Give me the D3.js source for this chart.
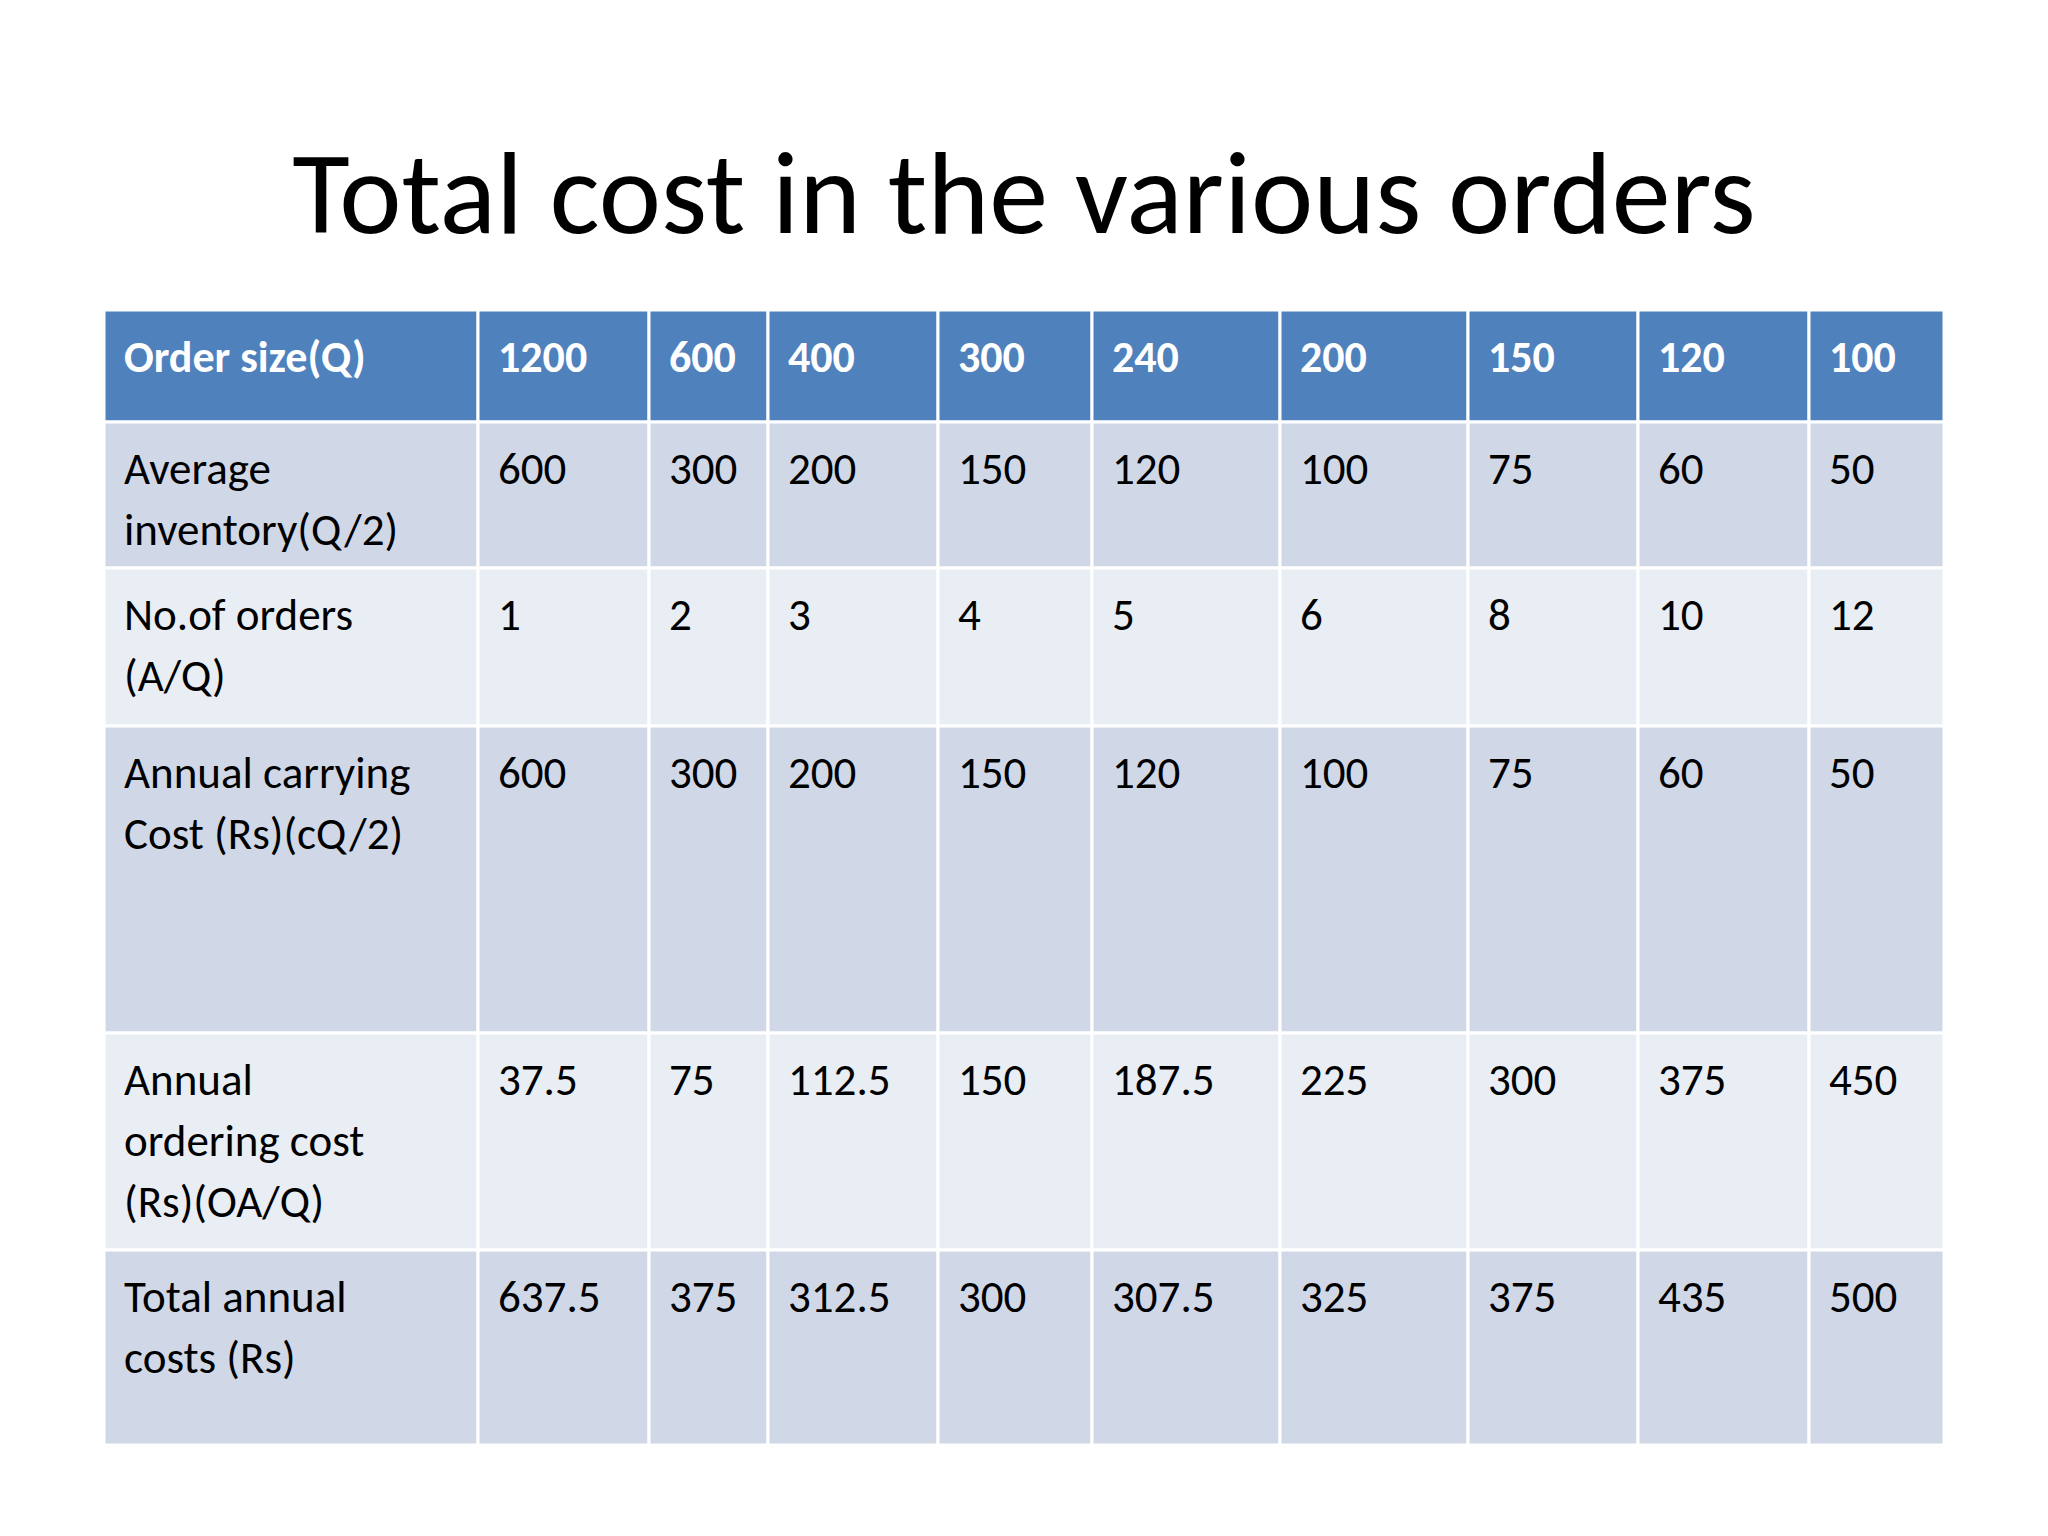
<!DOCTYPE html>
<html><head><meta charset="utf-8">
<script src="https://cdn.jsdelivr.net/npm/d3@7"></script>
<style>body{margin:0;background:#fff}</style>
</head><body>
<svg id="chart" width="2048" height="1536"></svg>
<script>
// table contents
var orderSizes = ["1200", "600", "400", "300", "240", "200", "150", "120", "100"];
var rowLabels = [
    ["Order size(Q)"],
    ["Average", "inventory(Q/2)"],
    ["No.of orders", "(A/Q)"],
    ["Annual carrying", "Cost (Rs)(cQ/2)"],
    ["Annual", "ordering cost", "(Rs)(OA/Q)"],
    ["Total annual", "costs (Rs)"]
];
var avgInventory = [600, 300, 200, 150, 120, 100, 75, 60, 50];
var numOrders = [1, 2, 3, 4, 5, 6, 8, 10, 12];
var carryingCost = [600, 300, 200, 150, 120, 100, 75, 60, 50];
var orderingCost = [37.5, 75, 112.5, 150, 187.5, 225, 300, 375, 450];
var totalCost = [637.5, 375, 312.5, 300, 307.5, 325, 375, 435, 500];

var colEdges = [104, 478, 649, 768, 938, 1092, 1280, 1468, 1638, 1809, 1944];
var rowEdges = [310, 422, 568, 726, 1033, 1250, 1445];
var rows = [orderSizes, avgInventory, numOrders, carryingCost, orderingCost, totalCost];
var fills = ["#4F81BD", "#D0D8E8", "#E9EDF4", "#D0D8E8", "#E9EDF4", "#D0D8E8"];

var svg = d3.select("#chart");
var font = "Carlito, 'Open Sans', 'Noto Sans', sans-serif";

svg.append("text")
    .attr("x", 1024).attr("y", 233)
    .attr("text-anchor", "middle")
    .attr("font-family", font).attr("font-size", 118)
    .attr("fill", "#000")
    .text("Total cost in the various orders");

rows.forEach(function (vals, r) {
    var cells = [rowLabels[r]].concat(vals.map(function (v) { return [String(v)]; }));
    cells.forEach(function (lines, c) {
        var x0 = colEdges[c], x1 = colEdges[c + 1];
        var y0 = rowEdges[r], y1 = rowEdges[r + 1];
        svg.append("rect")
            .attr("x", x0).attr("y", y0)
            .attr("width", x1 - x0).attr("height", y1 - y0)
            .attr("fill", fills[r])
            .attr("stroke", "#fff").attr("stroke-width", 3);
        var t = svg.append("text")
            .attr("font-family", font)
            .attr("font-size", r === 0 ? 44 : 45)
            .attr("font-weight", r === 0 ? "bold" : "normal")
            .attr("fill", r === 0 ? "#fff" : "#000");
        lines.forEach(function (s, i) {
            t.append("tspan")
                .attr("x", x0 + 20)
                .attr("y", y0 + 62 + i * 61)
                .text(s);
        });
    });
});
</script>
</body></html>
